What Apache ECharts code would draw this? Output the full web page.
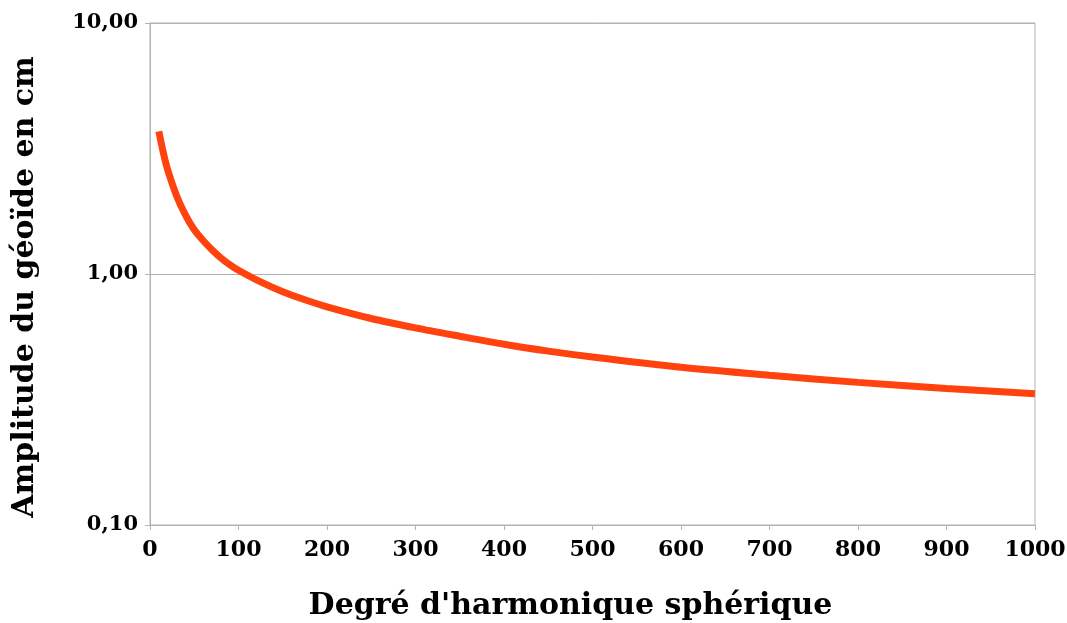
<!DOCTYPE html>
<html>
<head>
<meta charset="utf-8">
<script src="https://cdn.jsdelivr.net/npm/echarts@6/dist/echarts.min.js"></script>
<style>
html,body{margin:0;padding:0;background:#fff;}
#chart{width:1067px;height:623px;}
</style>
</head>
<body>
<div id="chart"></div>
<script>
const degrees = [10,15,20,30,40,50,60,70,80,90,100,125,150,175,200,250,300,350,400,450,500,600,700,800,900,1000];
const amplitudes = [3.7,3.05,2.6,2.05,1.72,1.5,1.36,1.25,1.16,1.09,1.035,0.93,0.85,0.79,0.74,0.665,0.61,0.565,0.525,0.493,0.467,0.425,0.395,0.37,0.35,0.333];
const xTitle = "Degré d'harmonique sphérique";
const yTitle = "Amplitude du géoïde en cm";

const fontFam = '"DejaVu Serif", serif';
const chart = echarts.init(document.getElementById('chart'));
chart.setOption({
  animation: false,
  backgroundColor: '#ffffff',
  grid: { left: 150, right: 32, top: 23, bottom: 98, outerBoundsMode: 'none', containLabel: false,
    show: true, borderColor: '#b3b3b3', borderWidth: 1, backgroundColor: 'transparent' },
  xAxis: {
    type: 'value', min: 0, max: 1000, interval: 100,
    name: xTitle, nameLocation: 'middle', nameGap: 66,
    nameTextStyle: { fontFamily: fontFam, fontWeight: 'bold', fontSize: 30, color: '#000', padding: [0, 44, 0, 0] },
    axisLine: { show: true, lineStyle: { color: '#b3b3b3', width: 1 } },
    axisTick: { show: true, length: 5, lineStyle: { color: '#b3b3b3' } },
    axisLabel: { fontFamily: fontFam, fontWeight: 'bold', fontSize: 22, color: '#000', margin: 14,
      formatter: v => String(v) },
    splitLine: { show: false }
  },
  yAxis: {
    type: 'log', logBase: 10, min: 0.1, max: 10,
    name: yTitle, nameLocation: 'middle', nameGap: 110,
    nameTextStyle: { fontFamily: fontFam, fontWeight: 'bold', fontSize: 30, color: '#000', padding: [0, 26, 0, 0] },
    axisLine: { show: true, lineStyle: { color: '#b3b3b3', width: 1 } },
    axisTick: { show: true, length: 5, lineStyle: { color: '#b3b3b3' } },
    axisLabel: { fontFamily: fontFam, fontWeight: 'bold', fontSize: 21, color: '#000', margin: 12,
      formatter: v => v.toFixed(2).replace('.', ',') },
    splitLine: { show: true, lineStyle: { color: '#b3b3b3', width: 1 } },
    minorTick: { show: false }
  },
  series: [{
    type: 'line',
    data: degrees.map((d, i) => [d, amplitudes[i]]),
    showSymbol: false,
    smooth: 0.3,
    lineStyle: { color: '#ff420e', width: 7, cap: 'butt' },
    itemStyle: { color: '#ff420e' }
  }]
});
</script>
</body>
</html>
